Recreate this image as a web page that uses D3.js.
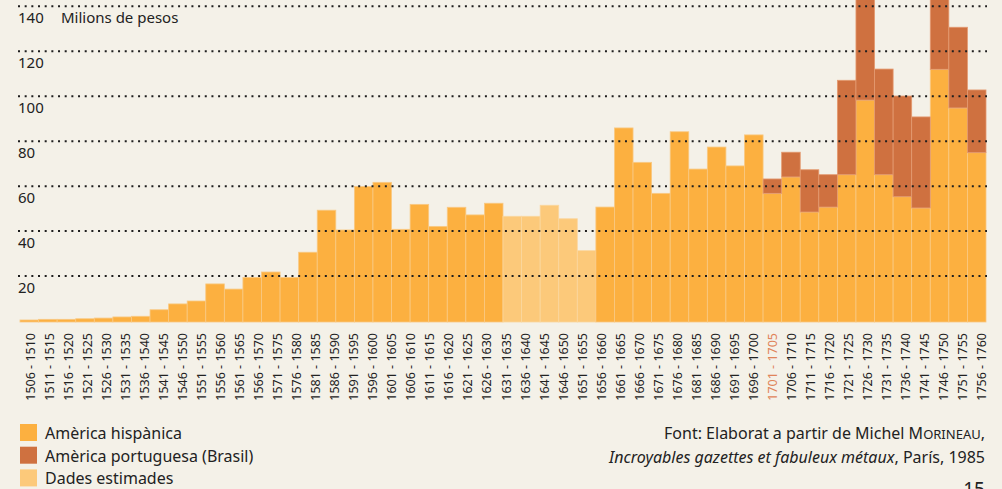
<!DOCTYPE html>
<html>
<head>
<meta charset="utf-8">
<script src="https://cdn.jsdelivr.net/npm/d3@7.9.0/dist/d3.min.js"></script>
<style>
  html, body { margin: 0; padding: 0; background: #f4f1e8; }
  body { width: 1002px; height: 489px; overflow: hidden; font-family: "Noto Sans", Lato, sans-serif; }
  svg { display: block; }
</style>
</head>
<body>
<div id="chart"></div>
<script>
// period labels on the x axis
const periods = d3.range(1506, 1757, 5).map(y => `${y} - ${y + 4}`);

// bar values (milions de pesos), one per bar as drawn
const hispanica = [
  0.45, 0.75, 0.75, 1.0, 1.3, 1.8, 2.1, 5.0, 7.6, 8.9,
  16.5, 14.2, 19.4, 21.8, 19.4, 30.6, 49.3, 40.5, 59.8, 61.7,
  40.8, 51.9, 42.1, 50.6, 47.2, 52.4, 46.6, 46.6, 51.5, 45.5,
  31.3, 50.7, 85.9, 70.6, 56.8, 84.2, 67.6, 77.4, 69.0, 82.8,
  56.8, 64.1, 48.5, 50.7, 65.1, 98.3, 65.1, 55.3, 50.3, 112.0,
  94.8, 74.9
];
const brasil = [
  0, 0, 0, 0, 0, 0, 0, 0, 0, 0,
  0, 0, 0, 0, 0, 0, 0, 0, 0, 0,
  0, 0, 0, 0, 0, 0, 0, 0, 0, 0,
  0, 0, 0, 0, 0, 0, 0, 0, 0, 0,
  6.4, 11.0, 18.8, 14.4, 42.0, 52.0, 47.0, 44.8, 40.5, 38.0,
  35.9, 27.9
];
// bars with estimated data
const estimated = [26, 27, 28, 29, 30];

const yTicks = [20, 40, 60, 80, 100, 120, 140];
const highlightPeriod = '1701 - 1705';

const legendItems = [
  { label: 'Amèrica hispànica', color: '#fcb040' },
  { label: 'Amèrica portuguesa (Brasil)', color: '#cf7140' },
  { label: 'Dades estimades', color: '#fcc97a' },
];

const width = 1002, height = 489;
const svg = d3.select('#chart').append('svg')
  .attr('width', width).attr('height', height);

const barX = d3.scaleBand().domain(d3.range(hispanica.length)).range([20, 986]).padding(0);
const labelX = d3.scaleBand().domain(periods).range([20.5, 991.5]).padding(0);
const y = d3.scaleLinear().domain([0, 140]).range([321, 6.35]);

const rows = hispanica.map((h, i) => ({ i, h, b: brasil[i], est: estimated.includes(i) }));

// hispanic bars
svg.append('g')
  .selectAll('rect')
  .data(rows)
  .join('rect')
  .attr('x', d => barX(d.i))
  .attr('y', d => y(d.h))
  .attr('width', barX.bandwidth())
  .attr('height', d => y(0) - y(d.h) + 1)
  .attr('fill', d => d.est ? '#fcc97a' : '#fcb040')
  .attr('stroke', d => d.est ? '#fbd79f' : '#f9c983')
  .attr('stroke-width', 0.8);

// brazil bars stacked on top
svg.append('g')
  .selectAll('rect')
  .data(rows.filter(d => d.b > 0))
  .join('rect')
  .attr('x', d => barX(d.i))
  .attr('y', d => y(d.h + d.b))
  .attr('width', barX.bandwidth())
  .attr('height', d => y(d.h) - y(d.h + d.b))
  .attr('fill', '#cf7140')
  .attr('stroke', '#e49a70')
  .attr('stroke-width', 0.8);

// dotted gridlines on top
const grid = svg.append('g');
grid.selectAll('line')
  .data(yTicks)
  .join('line')
  .attr('x1', 18).attr('x2', 987)
  .attr('y1', d => y(d)).attr('y2', d => y(d))
  .attr('stroke', '#1e1e1e')
  .attr('stroke-width', 2)
  .attr('stroke-dasharray', '2 4.67');

grid.selectAll('text')
  .data(yTicks)
  .join('text')
  .attr('x', 18)
  .attr('y', d => y(d) + 17)
  .attr('font-size', 15)
  .attr('fill', '#222')
  .text(d => d);

svg.append('text')
  .attr('x', 61).attr('y', y(140) + 17)
  .attr('font-size', 15)
  .attr('fill', '#222')
  .text('Milions de pesos');

// rotated period labels
svg.append('g')
  .selectAll('text')
  .data(periods)
  .join('text')
  .attr('transform', d => `translate(${labelX(d) + labelX.bandwidth() / 2 + 4.5},333) rotate(-90)`)
  .attr('text-anchor', 'end')
  .attr('font-size', 12.5)
  .attr('fill', d => d === highlightPeriod ? '#e0845a' : '#222')
  .text(d => d);

// legend
const legend = svg.append('g').selectAll('g')
  .data(legendItems)
  .join('g')
  .attr('transform', (d, i) => `translate(20,${424 + i * 22.7})`);
legend.append('rect')
  .attr('width', 17).attr('height', 17)
  .attr('fill', d => d.color);
legend.append('text')
  .attr('x', 25).attr('y', 15)
  .attr('font-size', 16)
  .attr('fill', '#222')
  .text(d => d.label);

// source
const src = svg.append('g').attr('font-size', 16).attr('fill', '#222').attr('text-anchor', 'end');
const l1 = src.append('text').attr('x', 985).attr('y', 439);
l1.append('tspan').text('Font: Elaborat a partir de Michel M');
l1.append('tspan').attr('font-size', 13).text('ORINEAU');
l1.append('tspan').text(',');
const l2 = src.append('text').attr('x', 985).attr('y', 463);
l2.append('tspan').attr('font-style', 'italic').text('Incroyables gazettes et fabuleux métaux');
l2.append('tspan').text(', París, 1985');

svg.append('text')
  .attr('x', 985).attr('y', 496)
  .attr('text-anchor', 'end')
  .attr('font-size', 19)
  .attr('fill', '#222')
  .text('15');
</script>
</body>
</html>
